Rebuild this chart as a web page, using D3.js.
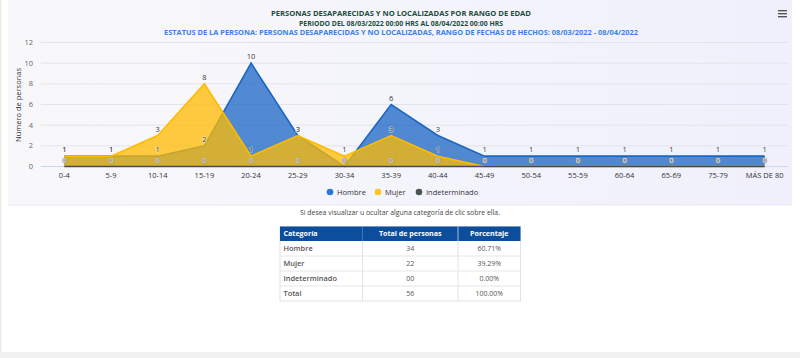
<!DOCTYPE html>
<html>
<head>
<meta charset="utf-8">
<script src="https://cdn.jsdelivr.net/npm/d3@7"></script>
<style>
  body { margin: 0; background: #fff; }
  svg { display: block; font-family: "Open Sans", sans-serif; }
</style>
</head>
<body>
<svg id="chart"></svg>
<script>
// datos del grafico
var categories = ["0-4", "5-9", "10-14", "15-19", "20-24", "25-29", "30-34", "35-39", "40-44", "45-49",
                  "50-54", "55-59", "60-64", "65-69", "75-79", "MÁS DE 80"];
var hombre = [1, 1, 1, 2, 10, 3, 0, 6, 3, 1, 1, 1, 1, 1, 1, 1];
var mujer = [1, 1, 3, 8, 1, 3, 1, 3, 1, 0, 0, 0, 0, 0, 0, 0];
var indeterminado = [0, 0, 0, 0, 0, 0, 0, 0, 0, 0, 0, 0, 0, 0, 0, 0];
var yTicks = [0, 2, 4, 6, 8, 10, 12];

// tabla
var tablaHeader = ["Categoría", "Total de personas", "Porcentaje"];
var tablaCategorias = ["Hombre", "Mujer", "Indeterminado", "Total"];
var tablaTotales = ["34", "22", "00", "56"];
var tablaPorcentajes = ["60.71%", "39.29%", "0.00%", "100.00%"];

var width = 800, height = 358;

var svg = d3.select("#chart")
    .attr("width", width)
    .attr("height", height);

// fondo de la pagina
svg.append("rect").attr("x", 0).attr("y", 0).attr("width", 1.5).attr("height", height).attr("fill", "#ecece6");
svg.append("rect").attr("x", 0).attr("y", 352).attr("width", width).attr("height", 6).attr("fill", "#f1f1f1");

var defs = svg.append("defs");
var grad = defs.append("linearGradient").attr("id", "bg").attr("x1", 0).attr("x2", 1).attr("y1", 0).attr("y2", 0);
grad.append("stop").attr("offset", "0%").attr("stop-color", "#f8f8fb");
grad.append("stop").attr("offset", "100%").attr("stop-color", "#f0f0fc");

svg.append("rect")
    .attr("x", 8).attr("y", 0).attr("width", 784).attr("height", 205)
    .attr("fill", "url(#bg)");
svg.append("line").attr("x1", 8).attr("x2", 792).attr("y1", 205).attr("y2", 205)
    .attr("stroke", "#e8e8f3");

// titulos
var titles = [
    { t: "PERSONAS DESAPARECIDAS Y NO LOCALIZADAS POR RANGO DE EDAD", y: 15.5, c: "#1d4c3c", s: 7.6 },
    { t: "PERIODO DEL 08/03/2022 00:00 HRS AL 08/04/2022 00:00 HRS", y: 25.5, c: "#1d4c3c", s: 6.9 },
    { t: "ESTATUS DE LA PERSONA: PERSONAS DESAPARECIDAS Y NO LOCALIZADAS, RANGO DE FECHAS DE HECHOS: 08/03/2022 - 08/04/2022", y: 34.5, c: "#3a80ec", s: 7.4 }
];
svg.selectAll(".title").data(titles).enter().append("text")
    .attr("class", "title")
    .attr("x", 401).attr("y", function(d) { return d.y; })
    .attr("text-anchor", "middle")
    .attr("fill", function(d) { return d.c; })
    .style("font-size", function(d) { return d.s + "px"; }).style("font-weight", "bold")
    .text(function(d) { return d.t; });

// menu icon
[0, 3, 6].forEach(function(o) {
    svg.append("rect").attr("x", 778).attr("y", 10 + o).attr("width", 9).attr("height", 1.4).attr("fill", "#555");
});

// escalas
var xScale = d3.scalePoint().domain(categories).range([41, 788]).padding(0.5);
var yScale = d3.scaleLinear().domain([0, 12]).range([166.5, 42.5]);

// grid
svg.append("g").selectAll("line").data(yTicks).enter().append("line")
    .attr("x1", 41).attr("x2", 788)
    .attr("y1", function(d) { return yScale(d); })
    .attr("y2", function(d) { return yScale(d); })
    .attr("stroke", function(d) { return d === 0 ? "#ccd6eb" : "#e3e3ea"; })
    .attr("stroke-width", 1);

// eje y
svg.append("g").selectAll("text").data(yTicks).enter().append("text")
    .attr("x", 33).attr("y", function(d) { return yScale(d) + 2.5; })
    .attr("text-anchor", "end")
    .attr("fill", "#666")
    .style("font-size", "7.5px")
    .text(function(d) { return d; });

svg.append("text")
    .attr("transform", "translate(21,105) rotate(-90)")
    .attr("text-anchor", "middle")
    .attr("fill", "#333")
    .style("font-size", "7.5px")
    .text("Número de personas");

// eje x
svg.append("g").selectAll("text").data(categories).enter().append("text")
    .attr("x", function(d) { return xScale(d); })
    .attr("y", 177.5)
    .attr("text-anchor", "middle")
    .attr("fill", "#333")
    .style("font-size", "7.5px")
    .text(function(d) { return d; });

// series
var series = [
    { name: "Hombre", values: hombre, color: "#1a66c4", dot: "#2b78dd" },
    { name: "Mujer", values: mujer, color: "#ffbb00", dot: "#ffc51a" },
    { name: "Indeterminado", values: indeterminado, color: "#434c50", dot: "#4a5356" }
];

var area = d3.area()
    .x(function(d, i) { return xScale(categories[i]); })
    .y0(yScale(0))
    .y1(function(d) { return yScale(d); });

var line = d3.line()
    .x(function(d, i) { return xScale(categories[i]); })
    .y(function(d) { return yScale(d); });

series.forEach(function(s) {
    svg.append("path")
        .datum(s.values)
        .attr("d", area)
        .attr("fill", s.color)
        .attr("fill-opacity", 0.75);
    svg.append("path")
        .datum(s.values)
        .attr("d", line)
        .attr("fill", "none")
        .attr("stroke", s.color)
        .attr("stroke-width", 1.6);
});

// etiquetas de datos
series.forEach(function(s, si) {
    svg.append("g").selectAll("text").data(s.values).enter().append("text")
        .attr("x", function(d, i) { return xScale(categories[i]); })
        .attr("y", function(d) { return yScale(d) - 4; })
        .attr("text-anchor", "middle")
        .style("font-size", "7.5px")
        .style("paint-order", "stroke")
        .attr("fill", function(d) { return d === 0 ? "#e4e4e4" : "#333"; })
        .attr("stroke", function(d) { return d === 0 ? "#8a8a8a" : "#fff"; })
        .attr("stroke-width", function(d) { return d === 0 ? 1 : 1.2; })
        .attr("stroke-opacity", function(d) { return d === 0 ? 0.8 : 0.6; })
        .text(function(d) { return d; });
});

// leyenda
var legendX = [330, 378, 419];
var legend = svg.append("g").selectAll("g").data(series).enter().append("g")
    .attr("transform", function(d, i) { return "translate(" + legendX[i] + ",192)"; });
legend.append("circle").attr("r", 3.3).attr("fill", function(d) { return d.dot; });
legend.append("text")
    .attr("x", 7).attr("y", 2.6)
    .attr("fill", "#333")
    .style("font-size", "7.5px")
    .text(function(d) { return d.name; });

svg.append("text")
    .attr("x", 400).attr("y", 214.5)
    .attr("text-anchor", "middle")
    .attr("fill", "#444")
    .style("font-size", "6.9px")
    .text("Si desea visualizar u ocultar alguna categoría de clic sobre ella.");

// tabla
var colX = [280, 362.5, 458, 520.5];
var tableTop = 226.5, headH = 14.5, rowH = 15;
var tabla = svg.append("g");

tabla.append("rect")
    .attr("x", colX[0]).attr("y", tableTop)
    .attr("width", colX[3] - colX[0]).attr("height", headH + rowH * tablaCategorias.length)
    .attr("fill", "#fff").attr("stroke", "#e2e2e2");

tabla.append("rect")
    .attr("x", colX[0]).attr("y", tableTop)
    .attr("width", colX[3] - colX[0]).attr("height", headH)
    .attr("fill", "#0c4e9b");

tabla.selectAll(".hdr").data(tablaHeader).enter().append("text")
    .attr("x", function(d, i) { return i === 0 ? colX[0] + 3.5 : (colX[i] + colX[i + 1]) / 2; })
    .attr("y", tableTop + 9.8)
    .attr("text-anchor", function(d, i) { return i === 0 ? "start" : "middle"; })
    .attr("fill", "#fff")
    .style("font-size", "7.1px").style("font-weight", "bold")
    .text(function(d) { return d; });

// separadores de columnas
[1, 2].forEach(function(c) {
    tabla.append("line")
        .attr("x1", colX[c]).attr("x2", colX[c])
        .attr("y1", tableTop).attr("y2", tableTop + headH + rowH * tablaCategorias.length)
        .attr("stroke", "#e4e4e4");
    tabla.append("line")
        .attr("x1", colX[c]).attr("x2", colX[c])
        .attr("y1", tableTop).attr("y2", tableTop + headH)
        .attr("stroke", "#3f73b3");
});

tablaCategorias.forEach(function(cat, r) {
    var y = tableTop + headH + r * rowH;
    if (r > 0) {
        tabla.append("line").attr("x1", colX[0]).attr("x2", colX[3])
            .attr("y1", y).attr("y2", y).attr("stroke", "#e6e6e6");
    }
    var cells = [cat, tablaTotales[r], tablaPorcentajes[r]];
    cells.forEach(function(v, c) {
        tabla.append("text")
            .attr("x", c === 0 ? colX[0] + 3.5 : (colX[c] + colX[c + 1]) / 2)
            .attr("y", y + 10)
            .attr("text-anchor", c === 0 ? "start" : "middle")
            .attr("fill", "#555")
            .style("font-size", c === 0 ? "7.4px" : "7px")
            .style("font-weight", c === 0 ? 600 : 400)
            .text(v);
    });
});
</script>
</body>
</html>
